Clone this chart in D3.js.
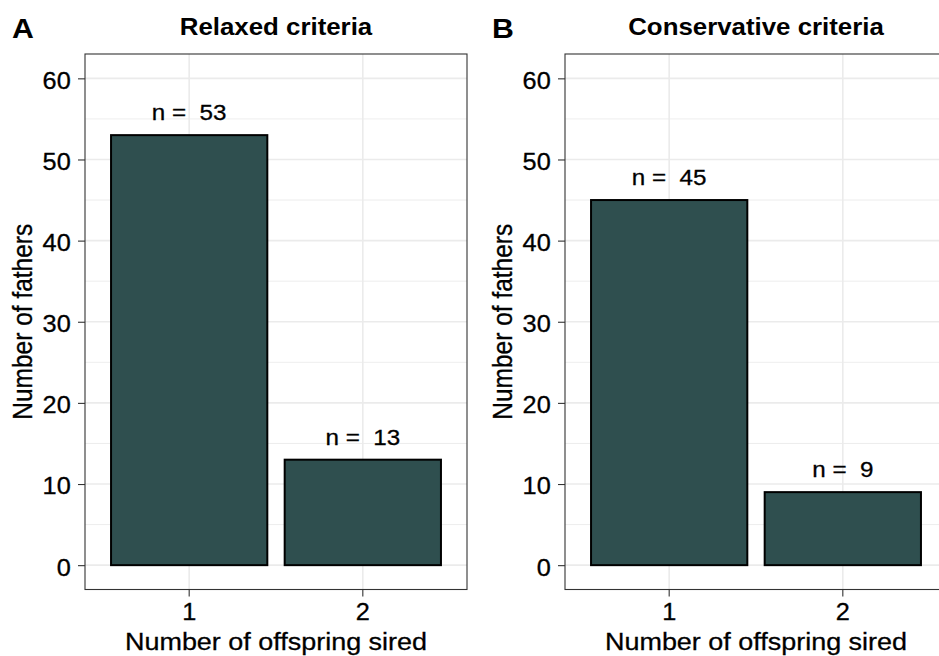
<!DOCTYPE html>
<html>
<head>
<meta charset="utf-8">
<script src="https://cdn.jsdelivr.net/npm/d3@7"></script>
<style>
  html, body { margin: 0; padding: 0; background: #fff; }
  svg { display: block; }
  text { font-family: "Liberation Sans", Arial, Helvetica, sans-serif; fill: #000; }
  text.reg { stroke: #000; stroke-width: 0.3px; }
</style>
</head>
<body>
<svg id="chart" width="939" height="656"></svg>
<script>
// Paternity counts: number of fathers by number of offspring sired
const categories = ["1", "2"];
const relaxedCounts = [53, 13];
const conservativeCounts = [45, 9];
const panelTitles = ["Relaxed criteria", "Conservative criteria"];
const panelTags = ["A", "B"];
const yTicks = [0, 10, 20, 30, 40, 50, 60];
const yMinorTicks = [5, 15, 25, 35, 45, 55];
const xAxisTitle = "Number of offspring sired";
const yAxisTitle = "Number of fathers";

const panels = [
  { tag: panelTags[0], title: panelTitles[0], counts: relaxedCounts, left: 85 },
  { tag: panelTags[1], title: panelTitles[1], counts: conservativeCounts, left: 565 }
];

const svg = d3.select("#chart");
const W = 939, H = 656;
const plotW = 382, plotTop = 54, plotBottom = 589.5;
const sx = 1.1;              // horizontal glyph widening used by all labels
const barFill = "#2F4F4F";
const gridColor = "#EBEBEB";
const inkColor = "#333333";

svg.append("rect").attr("width", W).attr("height", H).attr("fill", "#fff");

const y = d3.scaleLinear().domain([-3, 63]).range([plotBottom, plotTop]);

function wideText(parent, x, yPos, str, size, weight, anchor) {
  return parent.append("text")
    .attr("class", weight === "bold" ? null : "reg")
    .attr("transform", `translate(${x},${yPos}) scale(${sx},1)`)
    .attr("text-anchor", anchor || "middle")
    .style("font-size", size + "px")
    .style("font-weight", weight || "normal")
    .text(str);
}

panels.forEach(p => {
  const g = svg.append("g");
  const x = d3.scaleBand()
    .domain(categories)
    .range([p.left, p.left + plotW])
    .paddingInner(0.1)
    .paddingOuter(0.15);
  const cx = c => x(c) + x.bandwidth() / 2;
  const midX = p.left + plotW / 2;

  // panel background
  g.append("rect")
    .attr("x", p.left).attr("y", plotTop)
    .attr("width", plotW).attr("height", plotBottom - plotTop)
    .attr("fill", "#fff");

  // minor grid
  g.selectAll(".ymin").data(yMinorTicks).join("line")
    .attr("x1", p.left).attr("x2", p.left + plotW)
    .attr("y1", d => y(d)).attr("y2", d => y(d))
    .attr("stroke", gridColor).attr("stroke-width", 0.9);

  // major grid
  g.selectAll(".ymaj").data(yTicks).join("line")
    .attr("x1", p.left).attr("x2", p.left + plotW)
    .attr("y1", d => y(d)).attr("y2", d => y(d))
    .attr("stroke", gridColor).attr("stroke-width", 1.6);
  g.selectAll(".xmaj").data(categories).join("line")
    .attr("x1", d => cx(d)).attr("x2", d => cx(d))
    .attr("y1", plotTop).attr("y2", plotBottom)
    .attr("stroke", gridColor).attr("stroke-width", 1.6);

  // bars
  g.selectAll(".bar").data(categories).join("rect")
    .attr("x", d => x(d))
    .attr("width", x.bandwidth())
    .attr("y", (d, i) => y(p.counts[i]))
    .attr("height", (d, i) => y(0) - y(p.counts[i]))
    .attr("fill", barFill)
    .attr("stroke", "#000")
    .attr("stroke-width", 2);

  // count labels above bars
  categories.forEach((c, i) => {
    wideText(g, cx(c), y(p.counts[i]) - 15, "n =\u00A0\u00A0" + p.counts[i], 22);
  });

  // panel border
  g.append("rect")
    .attr("x", p.left).attr("y", plotTop)
    .attr("width", plotW).attr("height", plotBottom - plotTop)
    .attr("fill", "none").attr("stroke", inkColor).attr("stroke-width", 1.1);

  // axes
  const yAxis = g.append("g")
    .attr("transform", `translate(${p.left},0)`)
    .call(d3.axisLeft(y).tickValues(yTicks).tickSize(7).tickPadding(7));
  yAxis.select(".domain").remove();
  yAxis.selectAll("line").attr("stroke", inkColor).attr("stroke-width", 1.1);
  yAxis.selectAll("text")
    .attr("class", "reg")
    .attr("x", -14.3 / sx).attr("dy", "0.43em")
    .attr("transform", `scale(${sx},1)`)
    .attr("fill", "#000")
    .style("font-size", "23px")
    .style("font-family", '"Liberation Sans", Arial, sans-serif');

  const xAxis = g.append("g")
    .attr("transform", `translate(0,${plotBottom})`)
    .call(d3.axisBottom(x).tickSize(7).tickPadding(7));
  xAxis.select(".domain").remove();
  xAxis.selectAll("line").attr("stroke", inkColor).attr("stroke-width", 1.1);
  xAxis.selectAll("text")
    .attr("class", "reg")
    .attr("x", 0).attr("y", 14.2).attr("dy", "0.71em")
    .attr("transform", `scale(${sx},1)`)
    .attr("fill", "#000")
    .style("font-size", "23px")
    .style("font-family", '"Liberation Sans", Arial, sans-serif');

  // axis titles
  wideText(g, midX, 650, xAxisTitle, 24.5);
  g.append("text")
    .attr("class", "reg")
    .attr("transform", `translate(${p.left - 53},${(plotTop + plotBottom) / 2}) scale(${sx},1) rotate(-90)`)
    .attr("text-anchor", "middle")
    .style("font-size", "24.5px")
    .text(yAxisTitle);

  // panel title and tag
  wideText(g, midX, 35, p.title, 23.5, "bold");
  wideText(g, p.left - 73, 38.3, p.tag, 27.5, "bold", "start");
});
</script>
</body>
</html>
